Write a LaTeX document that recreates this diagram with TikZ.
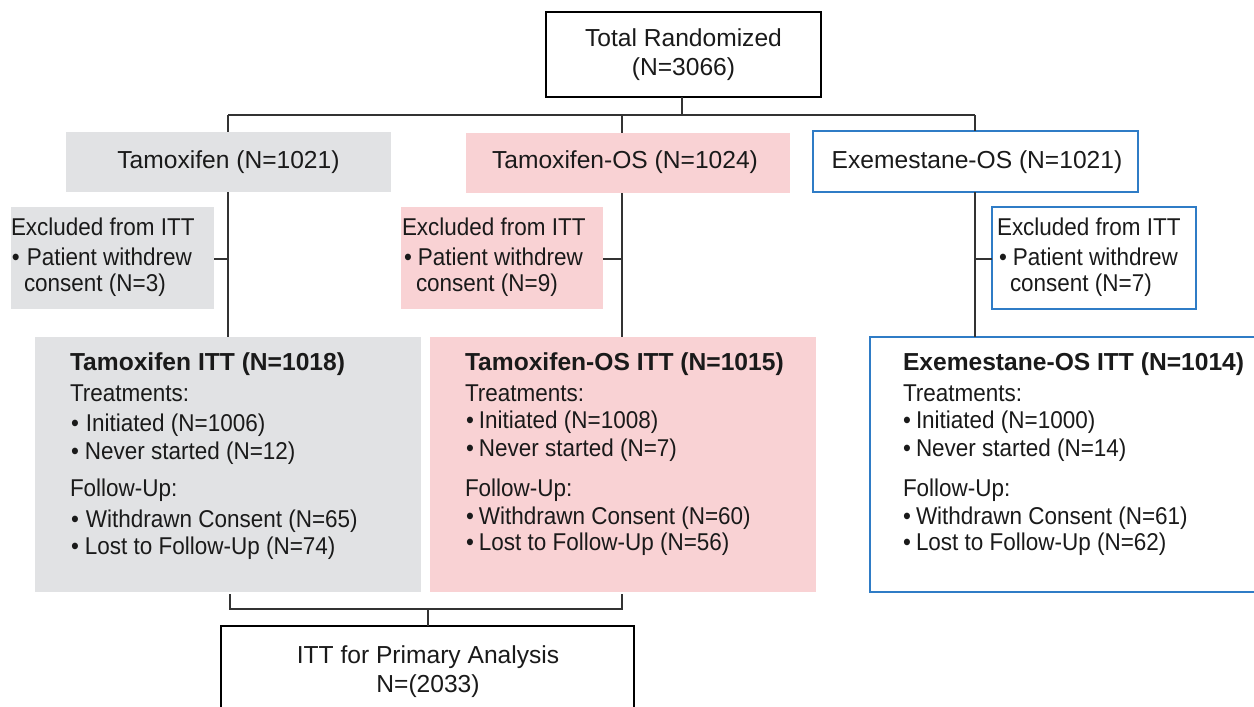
\documentclass[tikz,border=0pt]{standalone}
\usepackage{fontspec}
\setmainfont{Liberation Sans}
\newfontfamily\narrowfont[FakeStretch=0.925]{Liberation Sans}
\definecolor{txt}{HTML}{1A1A1A}
\definecolor{grayfill}{HTML}{E1E2E4}
\definecolor{pinkfill}{HTML}{F9D2D4}
\definecolor{blueline}{HTML}{2F7CC6}
\definecolor{conncol}{HTML}{333333}
\newcommand\bul[1]{\makebox[#1pt][l]{•}}
\tikzset{
  boxbase/.style={inner sep=0pt, outer sep=0pt, anchor=north west},
  graybox/.style={boxbase, fill=grayfill},
  pinkbox/.style={boxbase, fill=pinkfill},
  bluebox/.style={boxbase, draw=blueline, line width=1.6pt, fill=white},
  blackbox/.style={boxbase, draw=black, line width=1.4pt, fill=white},
  conn/.style={draw=conncol, line width=1.4pt},
  lbl/.style={inner sep=0pt, outer sep=0pt, anchor=base west, text=txt},
  clbl/.style={inner sep=0pt, outer sep=0pt, anchor=base, text=txt},
  big/.style={font=\fontsize{24.6}{28}\selectfont},
  body/.style={font=\narrowfont\fontsize{24.3}{28}\selectfont},
  ttl/.style={font=\bfseries\fontsize{24.6}{28}\selectfont},
}
\begin{document}
\begin{tikzpicture}[x=1pt,y=-1pt]
\useasboundingbox (0,0) rectangle (1254,707);
% boxes
\node[blackbox, minimum width=275pt, minimum height=85pt] (total) at (546,12) {};
\node[graybox, minimum width=325pt, minimum height=60pt] (tam) at (66,132) {};
\node[pinkbox, minimum width=324pt, minimum height=60pt] (tos) at (466,133) {};
\node[bluebox, minimum width=325pt, minimum height=61pt] (exe) at (813,131) {};
\node[graybox, minimum width=203pt, minimum height=102pt] (exA) at (11,207) {};
\node[pinkbox, minimum width=202pt, minimum height=102pt] (exB) at (401,207) {};
\node[bluebox, minimum width=204pt, minimum height=102pt] (exC) at (992,207) {};
\node[graybox, minimum width=386pt, minimum height=255pt] (tamitt) at (35,337) {};
\node[pinkbox, minimum width=386pt, minimum height=255pt] (tositt) at (430,337) {};
\node[bluebox, minimum width=392pt, minimum height=255pt] (exeitt) at (870,337) {};
\node[blackbox, minimum width=413pt, minimum height=95pt] (itt) at (221,626) {};
% connectors
\coordinate (bus) at (682,115);
\coordinate (sA) at (228,115);
\coordinate (sB) at (622,115);
\coordinate (sC) at (975,115);
\coordinate (bb) at (428,609);
\draw[conn] (total.south -| bus) -- (bus);
\draw[conn] (sA) -- (sC);
\draw[conn] (sA) -- (sA |- tam.north);
\draw[conn] (sB) -- (sB |- tos.north);
\draw[conn] (sC) -- (sC |- exe.north);
\draw[conn] (tam.south -| sA) -- (sA |- tamitt.north);
\draw[conn] (tos.south -| sB) -- (sB |- tositt.north);
\draw[conn] (exe.south -| sC) -- (sC |- exeitt.north);
\draw[conn] ([yshift=-1pt]exA.east) -- ([yshift=-1pt]exA.east -| sA);
\draw[conn] ([yshift=-1pt]exB.east) -- ([yshift=-1pt]exB.east -| sB);
\draw[conn] ([yshift=-1pt]exC.west) -- ([yshift=-1pt]exC.west -| sC);
\draw[conn] ([yshift=-2pt]tamitt.south -| 230,0) |- (bb) -| ([yshift=-2pt]tositt.south -| sB);
\draw[conn] (bb) -- (bb |- itt.north);
% texts
\node[clbl,big] (t1) at (683.5,46.7) {Total Randomized};
\node[clbl,big] (t2) at (683.5,75) {(N=3066)};
\node[clbl,big] (h1) at (228.5,168.3) {Tamoxifen (N=1021)};
\node[clbl,big] (h2) at (625,168.3) {Tamoxifen-OS (N=1024)};
\node[clbl,big] (h3) at (977,168.3) {Exemestane-OS (N=1021)};
% excluded
\node[lbl,body] (a1) at (11,235) {Excluded from ITT};
\node[lbl,body] (a2) at (12,265) {\bul{15}Patient withdrew};
\node[lbl,body] (a3) at (24,291.7) {consent (N=3)};
\node[lbl,body] (b1) at (402,235) {Excluded from ITT};
\node[lbl,body] (b2) at (404,265) {\bul{14}Patient withdrew};
\node[lbl,body] (b3) at (416,291.7) {consent (N=9)};
\node[lbl,body] (c1) at (997,235) {Excluded from ITT};
\node[lbl,body] (c2) at (999,265) {\bul{14}Patient withdrew};
\node[lbl,body] (c3) at (1010,291.7) {consent (N=7)};
% ITT boxes
\node[lbl,ttl] (p1) at (70,370) {Tamoxifen ITT (N=1018)};
\node[lbl,body] (p2) at (70,401.7) {Treatments:};
\node[lbl,body] (p3) at (71,431.7) {\bul{15}Initiated (N=1006)};
\node[lbl,body] (p4) at (71,459.3) {\bul{14}Never started (N=12)};
\node[lbl,body] (p5) at (70,496.7) {Follow-Up:};
\node[lbl,body] (p6) at (71,527.3) {\bul{15}Withdrawn Consent (N=65)};
\node[lbl,body] (p7) at (71,554) {\bul{14}Lost to Follow-Up (N=74)};
\node[lbl,ttl] (q1) at (465,370) {Tamoxifen-OS ITT (N=1015)};
\node[lbl,body] (q2) at (465,401.7) {Treatments:};
\node[lbl,body] (q3) at (466,428.3) {\bul{13}Initiated (N=1008)};
\node[lbl,body] (q4) at (466,456) {\bul{13}Never started (N=7)};
\node[lbl,body] (q5) at (465,496.7) {Follow-Up:};
\node[lbl,body] (q6) at (466,524) {\bul{13}Withdrawn Consent (N=60)};
\node[lbl,body] (q7) at (466,550.7) {\bul{13}Lost to Follow-Up (N=56)};
\node[lbl,ttl] (r1) at (903,370) {Exemestane-OS ITT (N=1014)};
\node[lbl,body] (r2) at (903,401.7) {Treatments:};
\node[lbl,body] (r3) at (903,428.3) {\bul{13}Initiated (N=1000)};
\node[lbl,body] (r4) at (903,456) {\bul{13}Never started (N=14)};
\node[lbl,body] (r5) at (903,496.7) {Follow-Up:};
\node[lbl,body] (r6) at (903,524) {\bul{13}Withdrawn Consent (N=61)};
\node[lbl,body] (r7) at (903,550.7) {\bul{13}Lost to Follow-Up (N=62)};
% final
\node[clbl,big] (f1) at (428,663.3) {ITT for Primary Analysis};
\node[clbl,big] (f2) at (428,692.7) {N=(2033)};
\end{tikzpicture}
\end{document}
